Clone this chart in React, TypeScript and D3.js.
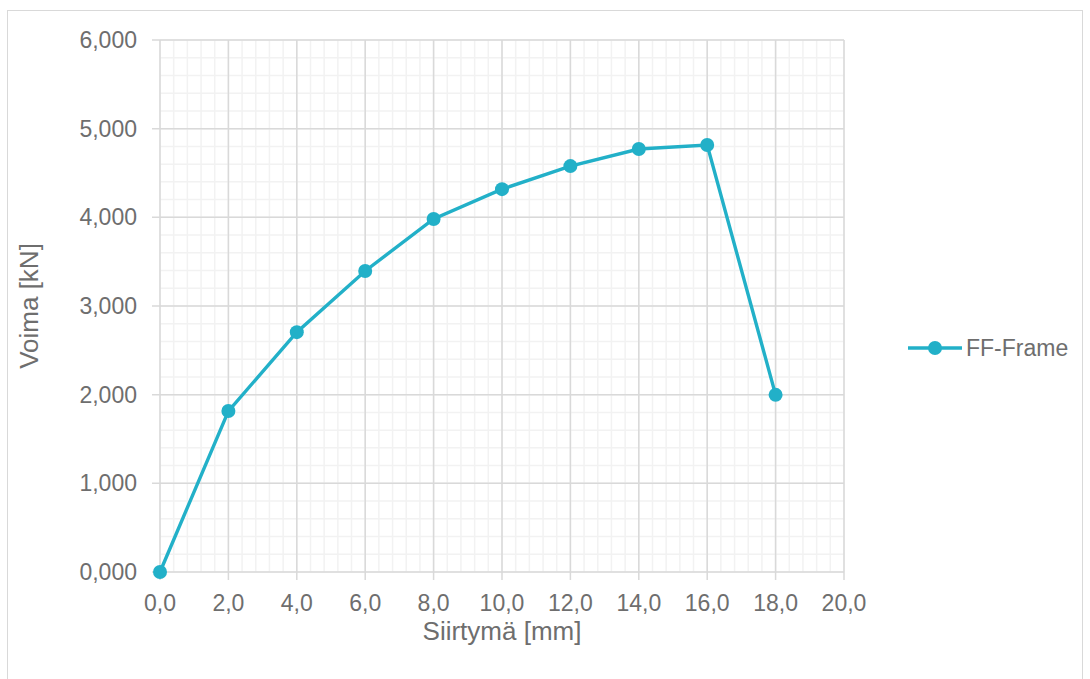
import React, { useEffect, useRef } from "react";
import * as d3 from "d3";

const displacement = [0, 2, 4, 6, 8, 10, 12, 14, 16, 18];
const force = [0, 1815, 2705, 3395, 3982, 4318, 4578, 4770, 4815, 1998];
const seriesName = "FF-Frame";
const xTicks = [0, 2, 4, 6, 8, 10, 12, 14, 16, 18, 20];
const yTicks = [0, 1000, 2000, 3000, 4000, 5000, 6000];

const width = 1090;
const height = 679;
const plot = { left: 160, right: 844, top: 40, bottom: 572 };
const color = "#22B0C8";
const textColor = "#6e6e6e";
const font = "'Liberation Sans', Arial, sans-serif";

const App = () => {
  const ref = useRef<SVGSVGElement>(null);

  useEffect(() => {
    const svg = d3.select(ref.current);
    svg.selectAll("*").remove();

    const x = d3.scaleLinear().domain([0, 20]).range([plot.left, plot.right]);
    const y = d3.scaleLinear().domain([0, 6000]).range([plot.bottom, plot.top]);

    svg
      .append("rect")
      .attr("x", 7.5)
      .attr("y", 10.5)
      .attr("width", width - 15)
      .attr("height", height - 5)
      .attr("fill", "white")
      .attr("stroke", "#d9d9d9");

    // minor grid
    const minorX = d3.range(0, 20.001, 0.4);
    const minorY = d3.range(0, 6000.1, 200);
    svg
      .append("g")
      .selectAll("line")
      .data(minorX)
      .enter()
      .append("line")
      .attr("x1", d => x(d))
      .attr("x2", d => x(d))
      .attr("y1", plot.top)
      .attr("y2", plot.bottom)
      .attr("stroke", "#f2f2f2")
      .attr("stroke-width", 1.5);
    svg
      .append("g")
      .selectAll("line")
      .data(minorY)
      .enter()
      .append("line")
      .attr("x1", plot.left)
      .attr("x2", plot.right)
      .attr("y1", d => y(d))
      .attr("y2", d => y(d))
      .attr("stroke", "#f2f2f2")
      .attr("stroke-width", 1.5);

    // major grid (with outward ticks)
    svg
      .append("g")
      .selectAll("line")
      .data(xTicks)
      .enter()
      .append("line")
      .attr("x1", d => x(d))
      .attr("x2", d => x(d))
      .attr("y1", plot.top)
      .attr("y2", plot.bottom + 8)
      .attr("stroke", "#d9d9d9")
      .attr("stroke-width", 1.5);
    svg
      .append("g")
      .selectAll("line")
      .data(yTicks)
      .enter()
      .append("line")
      .attr("x1", plot.left - 8)
      .attr("x2", plot.right)
      .attr("y1", d => y(d))
      .attr("y2", d => y(d))
      .attr("stroke", "#d9d9d9")
      .attr("stroke-width", 1.5);

    // tick labels
    svg
      .append("g")
      .selectAll("text")
      .data(xTicks)
      .enter()
      .append("text")
      .attr("x", d => x(d))
      .attr("y", 611)
      .attr("text-anchor", "middle")
      .attr("font-family", font)
      .attr("font-size", 23)
      .attr("fill", textColor)
      .text(d => d.toFixed(1).replace(".", ","));
    svg
      .append("g")
      .selectAll("text")
      .data(yTicks)
      .enter()
      .append("text")
      .attr("x", plot.left - 23)
      .attr("y", d => y(d))
      .attr("dy", "0.35em")
      .attr("text-anchor", "end")
      .attr("font-family", font)
      .attr("font-size", 23)
      .attr("fill", textColor)
      .text(d => Math.floor(d / 1000) + ",000");

    // axis titles
    svg
      .append("text")
      .attr("x", (plot.left + plot.right) / 2)
      .attr("y", 640)
      .attr("text-anchor", "middle")
      .attr("font-family", font)
      .attr("font-size", 26)
      .attr("fill", textColor)
      .text("Siirtymä [mm]");
    svg
      .append("text")
      .attr("transform", `translate(38,${(plot.top + plot.bottom) / 2}) rotate(-90)`)
      .attr("text-anchor", "middle")
      .attr("font-family", font)
      .attr("font-size", 26)
      .attr("fill", textColor)
      .text("Voima [kN]");

    const data = displacement.map((d, i) => ({ x: d, y: force[i] }));
    const line = d3
      .line<{ x: number; y: number }>()
      .x(d => x(d.x))
      .y(d => y(d.y));
    svg
      .append("path")
      .datum(data)
      .attr("d", line)
      .attr("fill", "none")
      .attr("stroke", color)
      .attr("stroke-width", 3.4);
    svg
      .append("g")
      .selectAll("circle")
      .data(data)
      .enter()
      .append("circle")
      .attr("cx", d => x(d.x))
      .attr("cy", d => y(d.y))
      .attr("r", 7)
      .attr("fill", color);

    // legend
    const lg = svg.append("g").attr("transform", "translate(908,348)");
    lg.append("line")
      .attr("x1", 0)
      .attr("x2", 54)
      .attr("stroke", color)
      .attr("stroke-width", 3.4);
    lg.append("circle").attr("cx", 27).attr("r", 7).attr("fill", color);
    lg.append("text")
      .attr("x", 58)
      .attr("dy", "0.35em")
      .attr("font-family", font)
      .attr("font-size", 23)
      .attr("fill", textColor)
      .text(seriesName);
  }, []);

  return (
    <svg
      ref={ref}
      width={width}
      height={height}
      style={{ position: "absolute", left: 0, top: 0 }}
    />
  );
};

export default App;
